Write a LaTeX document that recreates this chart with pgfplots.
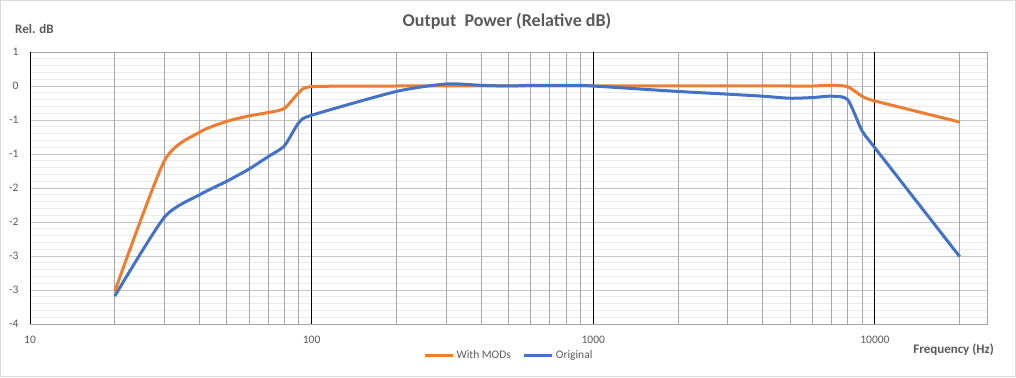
\documentclass[border=0pt]{standalone}
\usepackage{pgfplots}
\pgfplotsset{compat=1.18}
\usepackage{fontspec}
\setmainfont{Carlito}
\definecolor{xlorange}{HTML}{ED7D31}
\definecolor{xlblue}{HTML}{4472C4}
\definecolor{txtgray}{HTML}{595959}
\definecolor{vgrid}{HTML}{A6A6A6}
\definecolor{hmajor}{HTML}{C4C4C4}
\definecolor{hminor}{HTML}{EBEBEB}
\begin{document}
\begin{tikzpicture}[x=1pt,y=1pt]
\useasboundingbox (0,0) rectangle (1016,377);
\draw[line width=1pt, color=black!15] (0.5,0.5) rectangle (1015.5,376.5);
\begin{axis}[
  at={(30pt,53pt)}, anchor=south west,
  scale only axis, width=957pt, height=272pt,
  xmode=log, log basis x=10,
  xmin=10, xmax=25000,
  ymin=-3.5, ymax=0.5,
  xtick={10,100,1000,10000},
  xticklabels={10,100,1000,10000},
  ytick={-3.5,-3,-2.5,-2,-1.5,-1,-0.5,0,0.5},
  yticklabels={-4,-3,-3,-2,-2,-1,-1,0,1},
  minor ytick={-3.4,-3.3,-3.2,-3.1,-2.9,-2.8,-2.7,-2.6,-2.4,-2.3,-2.2,-2.1,-1.9,-1.8,-1.7,-1.6,-1.4,-1.3,-1.2,-1.1,-0.9,-0.8,-0.7,-0.6,-0.4,-0.3,-0.2,-0.1,0.1,0.2,0.3,0.4},
  major tick length=0pt, minor tick length=0pt,
  ymajorgrids, yminorgrids,
  y grid style={draw=hmajor, line width=0.9pt},
  minor y grid style={draw=hminor, line width=0.9pt},
  axis line style={draw=vgrid, line width=0.9pt},
  tick label style={font=\fontsize{11.5}{13}\selectfont, text=txtgray},
  yticklabel style={anchor=east, xshift=-8pt},
  xticklabel style={anchor=north, yshift=-8.5pt},
  legend style={at={(0.5005,-0.114)}, anchor=center, draw=none, fill=none,
    legend columns=2, font=\fontsize{11.5}{13}\selectfont, text=txtgray,
    /tikz/every even column/.append style={column sep=10pt}},
  legend image code/.code={\draw[#1] (0pt,0pt) -- (28pt,0pt);},
  clip=false,
]
\pgfplotsinvokeforeach{20,30,40,50,60,70,80,90,200,300,400,500,600,700,800,900,2000,3000,4000,5000,6000,7000,8000,9000,20000}{
  \draw[vgrid, line width=0.9pt] (axis cs:#1,-3.5) -- (axis cs:#1,0.5);
}
\pgfplotsinvokeforeach{10,100,1000,10000}{
  \draw[black, line width=0.9pt] (axis cs:#1,-3.5) -- (axis cs:#1,0.5);
}
\addplot[xlorange, line width=3pt, smooth, tension=0.4] coordinates {
(20,-3.02) (30,-1.10) (40,-0.68) (50,-0.52) (60,-0.44) (70,-0.39) (80,-0.33) (90,-0.10) (100,-0.01)
(200,0.0) (300,0.0) (400,0.0) (500,0.0) (600,0.0) (700,0.0) (800,0.0) (900,0.0) (1000,0.0)
(2000,0.0) (3000,0.0) (4000,0.0) (5000,0.0) (6000,0.0) (7000,0.01) (8000,-0.01) (9000,-0.15) (10000,-0.22)
(20000,-0.53)};
\addlegendentry{With MODs}
\addplot[xlblue, line width=3pt, smooth, tension=0.4] coordinates {
(20,-3.09) (30,-1.93) (40,-1.60) (50,-1.40) (60,-1.22) (70,-1.04) (80,-0.88) (90,-0.54) (100,-0.43)
(200,-0.08) (300,0.03) (400,0.01) (500,0.0) (600,0.01) (700,0.01) (800,0.01) (900,0.01) (1000,0.0)
(2000,-0.08) (3000,-0.12) (4000,-0.15) (5000,-0.18) (6000,-0.17) (7000,-0.15) (8000,-0.20) (9000,-0.66) (10000,-0.91)
(20000,-2.51)};
\addlegendentry{Original}
\end{axis}
\node[font=\bfseries\fontsize{18}{20}\selectfont, text=txtgray] at (507,356) {Output\ \ Power (Relative dB)};
\node[font=\bfseries\fontsize{13}{15}\selectfont, text=txtgray, anchor=west, inner sep=0pt] at (15,348) {Rel. dB};
\node[font=\bfseries\fontsize{13}{15}\selectfont, text=txtgray, anchor=east, inner sep=0pt] at (994,27) {Frequency (Hz)};
\end{tikzpicture}
\end{document}
